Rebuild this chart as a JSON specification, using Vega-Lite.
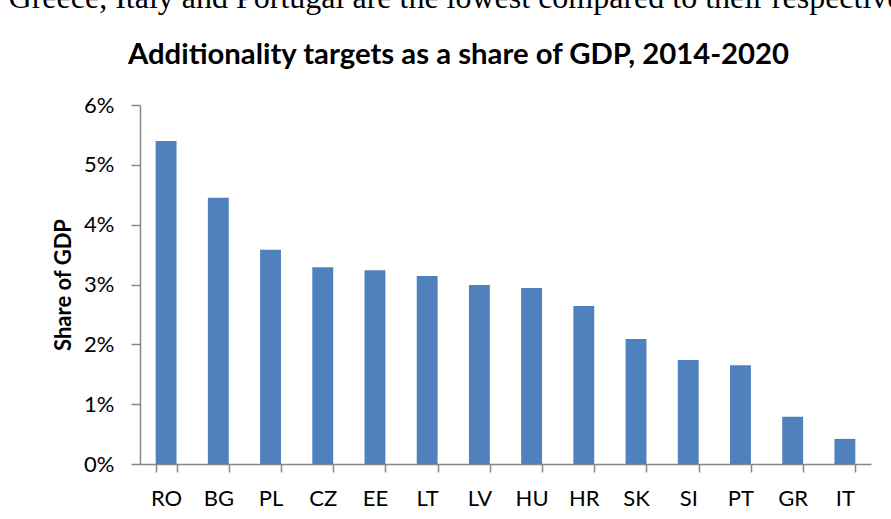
{
  "$schema": "https://vega.github.io/schema/vega-lite/v6.json",
  "padding": {"left": 8, "top": -19, "right": 0, "bottom": 0},
  "background": "white",
  "title": {
    "text": "Greece, Italy and Portugal are the lowest compared to their respective",
    "anchor": "start",
    "font": "Liberation Serif",
    "fontSize": 32,
    "fontWeight": "normal",
    "color": "black",
    "dx": -44,
    "offset": 26
  },
  "datasets": {
    "shares": [
      {"country": "RO", "share": 0.0540},
      {"country": "BG", "share": 0.0445},
      {"country": "PL", "share": 0.0358},
      {"country": "CZ", "share": 0.0329},
      {"country": "EE", "share": 0.0324},
      {"country": "LT", "share": 0.0314},
      {"country": "LV", "share": 0.0299},
      {"country": "HU", "share": 0.0294},
      {"country": "HR", "share": 0.0264},
      {"country": "SK", "share": 0.0209},
      {"country": "SI", "share": 0.0174},
      {"country": "PT", "share": 0.0165},
      {"country": "GR", "share": 0.0079},
      {"country": "IT", "share": 0.0042}
    ]
  },
  "vconcat": [
    {
      "width": 731,
      "height": 359,
      "data": {"name": "shares"},
      "title": {
        "text": "Additionality targets as a share of GDP, 2014-2020",
        "font": "Lato",
        "fontSize": 29.3,
        "fontWeight": "bold",
        "color": "black",
        "anchor": "middle",
        "dx": -47,
        "offset": 24
      },
      "mark": {"type": "bar", "color": "#4F81BD"},
      "encoding": {
        "x": {
          "field": "country",
          "type": "nominal",
          "sort": null,
          "scale": {"paddingInner": 0.6, "paddingOuter": 0.3},
          "axis": {
            "title": null,
            "labelAngle": 0,
            "labelFont": "Lato",
            "labelFontSize": 22,
            "labelColor": "black",
            "labelPadding": 16,
            "tickBand": "extent",
            "tickSize": 8,
            "tickColor": "#868686",
            "tickWidth": 1.5,
            "domainColor": "#868686",
            "domainWidth": 1.5
          }
        },
        "y": {
          "field": "share",
          "type": "quantitative",
          "scale": {"domain": [0, 0.06], "nice": false},
          "axis": {
            "title": "Share of GDP",
            "titleFont": "Lato",
            "titleFontSize": 22,
            "titleFontWeight": "bold",
            "titleColor": "black",
            "titlePadding": 8,
            "format": ".0%",
            "values": [0, 0.01, 0.02, 0.03, 0.04, 0.05, 0.06],
            "grid": false,
            "labelFont": "Lato",
            "labelFontSize": 22,
            "labelColor": "black",
            "labelPadding": 17,
            "tickSize": 9,
            "tickColor": "#868686",
            "tickWidth": 1.5,
            "domainColor": "#868686",
            "domainWidth": 1.5
          }
        }
      }
    }
  ],
  "config": {
    "view": {"stroke": null}
  }
}
